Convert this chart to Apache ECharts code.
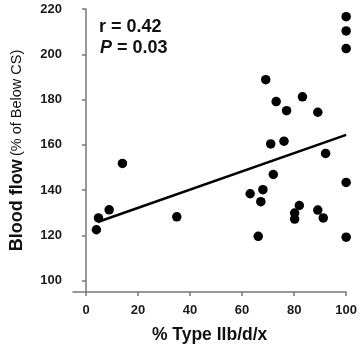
<!DOCTYPE html>
<html>
<head>
<meta charset="utf-8">
<script src="https://cdn.jsdelivr.net/npm/echarts@6/dist/echarts.min.js"></script>
<style>
  html, body { margin: 0; padding: 0; background: #fff; }
  #chart { width: 360px; height: 349px; }
</style>
</head>
<body>
<div id="chart"></div>
<script>
// % Type IIb/d/x vs blood flow (% of below CS)
const typeIIb = [100, 100, 100, 69.1, 73.1, 83.2, 77.1, 89.1, 71.0, 76.1, 92.1, 72.0,
  100, 63.1, 68.0, 67.2, 82.0, 80.2, 80.2, 89.1, 91.2, 66.2, 100,
  4.0, 4.8, 8.9, 34.9, 14.0];
const bloodFlow = [216.6, 210.3, 202.5, 188.8, 179.1, 181.2, 175.1, 174.4, 160.4, 161.6, 156.2, 146.9,
  143.4, 138.4, 140.2, 134.9, 133.2, 129.9, 127.2, 131.2, 127.7, 119.6, 119.2,
  122.5, 127.7, 131.3, 128.2, 151.8];

// regression line end points
const fitX = [4.5, 100];
const fitY = [125.9, 164.4];

const xTicks = [0, 20, 40, 60, 80, 100];
const yTicks = [100, 120, 140, 160, 180, 200, 220];

const points = typeIIb.map((x, i) => [x, bloodFlow[i]]);
const fitLine = fitX.map((x, i) => [x, fitY[i]]);

const chart = echarts.init(document.getElementById('chart'));

const tickLabel = {
    fontFamily: 'Liberation Sans',
    fontWeight: 'bold',
    fontSize: 13,
    color: '#1a1a1a'
};
const axisGray = { color: '#777', width: 1.5 };

const option = {
    animation: false,
    grid: {
        left: 65,
        right: 13,
        top: 9,
        bottom: 57
    },
    xAxis: {
        type: 'value',
        min: -5,
        max: 100,
        splitLine: { show: false },
        axisLine: { lineStyle: axisGray },
        axisTick: { customValues: xTicks, length: 4, lineStyle: axisGray },
        axisLabel: { customValues: xTicks, margin: 12, ...tickLabel },
        name: '% Type IIb/d/x',
        nameLocation: 'middle',
        nameGap: 34,
        nameTextStyle: {
            fontFamily: 'Liberation Sans',
            fontWeight: 'bold',
            fontSize: 17.5,
            color: '#111'
        }
    },
    yAxis: {
        type: 'value',
        min: 95,
        max: 220,
        splitLine: { show: false },
        axisLine: { show: true, lineStyle: axisGray },
        axisTick: { show: true, customValues: yTicks, length: 4, lineStyle: axisGray },
        axisLabel: { customValues: yTicks, margin: 11, ...tickLabel },
        name: '{a|Blood flow} {b|(% of Below CS)}',
        nameLocation: 'middle',
        nameGap: 47,
        nameTextStyle: {
            rich: {
                a: {
                    fontFamily: 'Liberation Sans',
                    fontWeight: 'bold',
                    fontSize: 18,
                    color: '#111'
                },
                b: {
                    fontFamily: 'Liberation Sans',
                    fontWeight: 'normal',
                    fontSize: 14.5,
                    color: '#111'
                }
            }
        }
    },
    graphic: [
        {
            type: 'text',
            left: 99,
            top: 18,
            style: {
                text: 'r = 0.42',
                fontFamily: 'Liberation Sans',
                fontWeight: 'bold',
                fontSize: 18,
                fill: '#111'
            }
        },
        {
            type: 'text',
            left: 100,
            top: 39,
            style: {
                text: '{i|P} = 0.03',
                fontFamily: 'Liberation Sans',
                fontWeight: 'bold',
                fontSize: 18,
                fill: '#111',
                rich: {
                    i: {
                        fontFamily: 'Liberation Sans',
                        fontWeight: 'bold',
                        fontStyle: 'italic',
                        fontSize: 18,
                        fill: '#111'
                    }
                }
            }
        }
    ],
    series: [
        {
            type: 'line',
            data: fitLine,
            symbol: 'none',
            lineStyle: { color: '#000', width: 2.5 },
            z: 2
        },
        {
            type: 'scatter',
            data: points,
            symbolSize: 9.5,
            itemStyle: { color: '#000', opacity: 1 },
            z: 3
        }
    ]
};

chart.setOption(option);
</script>
</body>
</html>
